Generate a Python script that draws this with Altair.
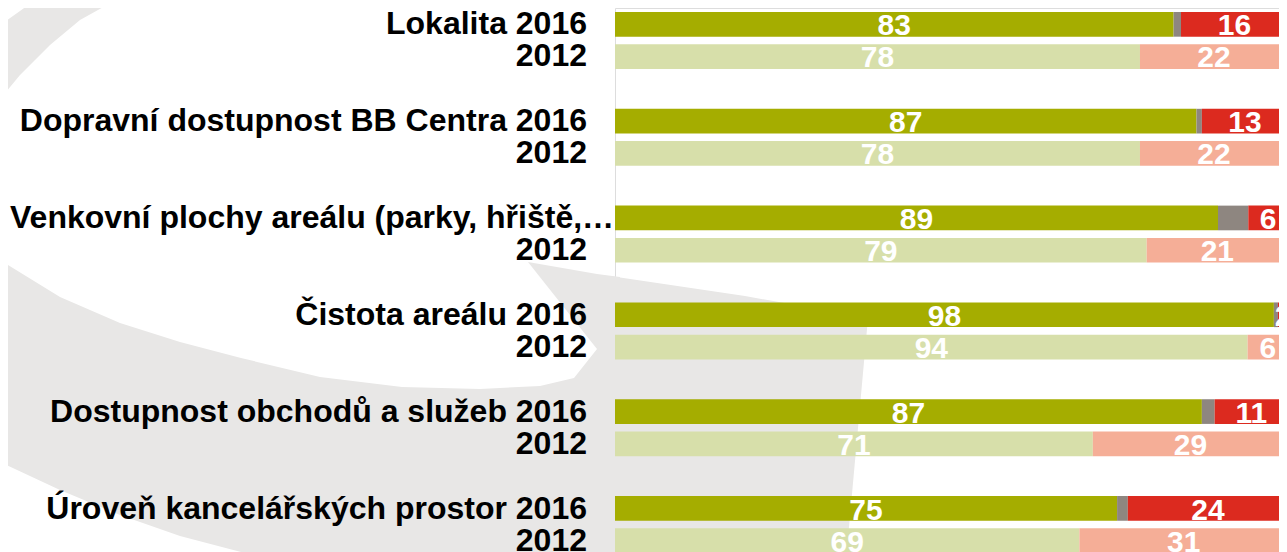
import altair as alt
import pandas as pd

categories = [
    "Lokalita",
    "Dopravní dostupnost BB Centra",
    "Venkovní plochy areálu (parky, hřiště,…",
    "Čistota areálu",
    "Dostupnost obchodů a služeb",
    "Úroveň kancelářských prostor",
]
years = ["2016", "2012"]

# segment lengths (% of answers)
pos_2016 = [83.0, 86.4, 89.6, 97.9, 87.2, 74.6]
neu_2016 = [1.1, 0.8, 4.5, 0.6, 1.9, 1.6]
neg_2016 = [15.9, 12.8, 5.9, 1.5, 10.9, 23.8]
pos_2012 = [78, 78, 79, 94, 71, 69]
neg_2012 = [22, 22, 21, 6, 29, 31]

# printed value labels
pos_lab_2016 = ["83", "87", "89", "98", "87", "75"]
neg_lab_2016 = ["16", "13", "6", "2", "11", "24"]
pos_lab_2012 = ["78", "78", "79", "94", "71", "69"]
neg_lab_2012 = ["22", "22", "21", "6", "29", "31"]

seg_keys = ["pos2016", "neu2016", "neg2016", "pos2012", "neg2012"]
seg_colors = ["#A5AD00", "#8E8680", "#DC2A1F", "#D7DFAA", "#F5AE97"]

# decorative background swoosh outline (page pixels)
swoosh_top_x = [0, 20, 35, 50, 80, 116]
swoosh_top_y1 = [25, 11, 0, 0, 0, 0]
swoosh_top_y2 = [99, 75, 60, 45, 20, 0]
swoosh_low_x = [0, 60, 120, 180, 241, 320, 402, 480, 540, 574, 597, 620]
swoosh_low_y1 = [260, 297, 323, 342, 358, 377, 387, 389, 386, 378, 349, 349]
swoosh_low_y2 = [462, 490, 515, 536, 552, 560, 560, 560, 560, 560, 560, 560]
swoosh_wedge_x = [528, 597, 620]
swoosh_wedge_y1 = [262, 274, 277]
swoosh_wedge_y2 = [262, 349, 349]
swoosh_tip_x = [610, 745, 846, 868]
swoosh_tip_y1 = [276, 296, 314, 318]
swoosh_tip_y2 = [560, 560, 560, 318]
SWOOSH = "#E8E7E6"

PLOT_LEFT, PLOT_TOP, W, H = 615, 8, 664, 549
X_MAX = 98.66  # the bars run past the right edge of the page

slots = []
for i in range(len(categories)):
    slots += [f"{i}-2016", f"{i}-2012"]
    if i < len(categories) - 1:
        slots.append(f"gap{i}")

rows = []
labels = []
for i, cat in enumerate(categories):
    s16, s12 = f"{i}-2016", f"{i}-2012"
    rows += [
        dict(slot=s16, key="pos2016", o=0, v=pos_2016[i], lab=pos_lab_2016[i]),
        dict(slot=s16, key="neu2016", o=1, v=neu_2016[i], lab=""),
        dict(slot=s16, key="neg2016", o=2, v=neg_2016[i], lab=neg_lab_2016[i]),
        dict(slot=s12, key="pos2012", o=0, v=pos_2012[i], lab=pos_lab_2012[i]),
        dict(slot=s12, key="neg2012", o=2, v=neg_2012[i], lab=neg_lab_2012[i]),
    ]
    long = cat.endswith("…")
    labels.append(dict(slot=s16, text=cat if long else f"{cat} 2016", long=long))
    labels.append(dict(slot=s12, text="2012", long=False))

df = pd.DataFrame(rows)
lab_df = pd.DataFrame(labels)

sw_x = alt.Scale(domain=[PLOT_LEFT, PLOT_LEFT + W], nice=False, zero=False)
sw_y = alt.Scale(domain=[PLOT_TOP, PLOT_TOP + H], nice=False, zero=False, reverse=True)


def swoosh(xs, y1, y2):
    d = pd.DataFrame({"sx": xs, "sy": y1, "sy2": y2})
    return alt.Chart(d).mark_area(color=SWOOSH, orient="vertical", opacity=1).encode(
        x=alt.X("sx:Q", scale=sw_x, axis=None),
        y=alt.Y("sy:Q", scale=sw_y, axis=None),
        y2="sy2:Q",
    )


bg = alt.layer(
    swoosh(swoosh_top_x, swoosh_top_y1, swoosh_top_y2),
    swoosh(swoosh_low_x, swoosh_low_y1, swoosh_low_y2),
    swoosh(swoosh_wedge_x, swoosh_wedge_y1, swoosh_wedge_y2),
    swoosh(swoosh_tip_x, swoosh_tip_y1, swoosh_tip_y2),
)

xscale = alt.Scale(domain=[0, X_MAX], nice=False, zero=True)
yenc = alt.Y(
    "slot:N",
    sort=slots,
    scale=alt.Scale(domain=slots, paddingInner=0.235, paddingOuter=0.124),
    axis=None,
)

bars = alt.Chart(df).mark_bar().encode(
    x=alt.X("v:Q", stack="zero", scale=xscale, axis=None),
    y=yenc,
    color=alt.Color("key:N", scale=alt.Scale(domain=seg_keys, range=seg_colors), legend=None),
    order=alt.Order("o:Q"),
)

values = (
    alt.Chart(df)
    .transform_stack(stack="v", groupby=["slot"], sort=[alt.SortField("o")], as_=["x0", "x1"])
    .transform_calculate(mid="(datum.x0 + datum.x1) / 2")
    .transform_filter("datum.lab != ''")
    .mark_text(color="white", fontSize=30, fontWeight="bold", font="Liberation Sans",
               baseline="alphabetic", dy=11)
    .encode(x=alt.X("mid:Q", scale=xscale, axis=None), y=yenc, text="lab:N")
)

row_labels = (
    alt.Chart(lab_df)
    .transform_filter("!datum.long")
    .mark_text(align="right", baseline="alphabetic", dy=10, fontSize=32, fontWeight="bold",
               font="Liberation Sans", color="black")
    .encode(x=alt.value(-28), y=yenc, text="text:N")
)

long_labels = (
    alt.Chart(lab_df)
    .transform_filter("datum.long")
    .mark_text(align="left", baseline="alphabetic", dy=10, fontSize=32, fontWeight="bold",
               font="Liberation Sans", color="black")
    .encode(x=alt.value(-605), y=yenc, text="text:N")
)

chart = (
    alt.layer(bg, bars, values, row_labels, long_labels)
    .resolve_scale(x="independent", y="independent")
    .properties(
        width=W,
        height=H,
        padding={"left": PLOT_LEFT - 8, "top": 0, "right": 0, "bottom": 0},
        autosize=alt.AutoSizeParams(type="none"),
    )
    .configure_view(stroke="transparent", strokeWidth=0, strokeOpacity=0)
    .configure(background="white")
)

chart.save("out.html", embed_options={"renderer": "svg", "actions": False})
